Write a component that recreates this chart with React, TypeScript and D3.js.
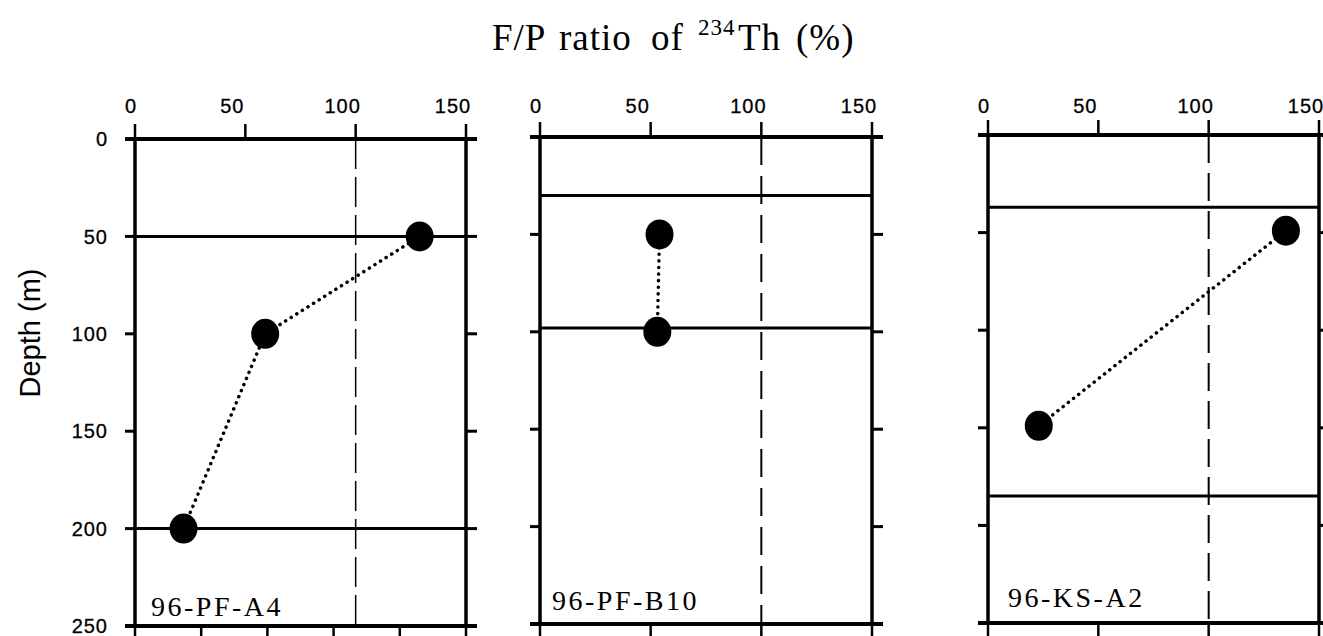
import * as d3 from "d3";

// F/P ratio of 234Th (%) vs depth, three stations
const stationNames = ["96-PF-A4", "96-PF-B10", "96-KS-A2"];

const fpRatioA4 = [129, 59, 22];
const depthA4 = [50, 100, 200];
const fpRatioB10 = [54, 53];
const depthB10 = [50, 100];
const fpRatioKS = [135, 23];
const depthKS = [49, 149];

// horizontal reference layers (m)
const layersA4 = [50, 200];
const layersB10 = [30, 98];
const layersKS = [37, 185];

const topTicks = [0, 50, 100, 150];
const bottomTicksA4 = [0, 30, 60, 90, 120, 150];
const bottomTicks = [0, 50, 100, 150];
const depthTicks = [0, 50, 100, 150, 200, 250];
const refRatio = 100;

const WIDTH = 1323;
const HEIGHT = 636;

const panels = [
	{
		name: stationNames[0],
		ratio: fpRatioA4,
		depth: depthA4,
		layers: layersA4,
		bottom: bottomTicksA4,
		x: [135, 466],
		y: [139, 626],
		label: [151, 616],
		dash: { w: 1.5, pattern: "30,8" },
		showDepthLabels: true,
	},
	{
		name: stationNames[1],
		ratio: fpRatioB10,
		depth: depthB10,
		layers: layersB10,
		bottom: bottomTicks,
		x: [540, 872],
		y: [137, 624],
		label: [552, 610],
		dash: { w: 2, pattern: "28,11" },
		showDepthLabels: false,
	},
	{
		name: stationNames[2],
		ratio: fpRatioKS,
		depth: depthKS,
		layers: layersKS,
		bottom: bottomTicks,
		x: [988, 1319],
		y: [135, 623],
		label: [1008, 607],
		dash: { w: 2, pattern: "28,10" },
		showDepthLabels: false,
	},
];

const sans = "'Liberation Sans', Arial, sans-serif";
const serif = "'Liberation Serif', 'Times New Roman', serif";

function Panel({ p }: { p: (typeof panels)[number] }) {
	const x = d3.scaleLinear().domain([0, 150]).range(p.x);
	const y = d3.scaleLinear().domain([0, 250]).range(p.y);
	const pts = p.ratio.map((r, i) => [r, p.depth[i]] as [number, number]);
	const line = d3
		.line<[number, number]>()
		.x((d) => x(d[0]))
		.y((d) => y(d[1]));

	return (
		<g>
			{/* reference line at 100 % */}
			<line
				x1={x(refRatio)}
				x2={x(refRatio)}
				y1={y(0)}
				y2={y(250)}
				stroke="#000"
				strokeWidth={p.dash.w}
				strokeDasharray={p.dash.pattern}
			/>
			{/* layer lines */}
			{p.layers.map((l) => (
				<line
					key={l}
					x1={x(0)}
					x2={x(150)}
					y1={y(l)}
					y2={y(l)}
					stroke="#000"
					strokeWidth={3}
				/>
			))}
			{/* frame */}
			<line x1={x(0)} x2={x(0)} y1={y(0)} y2={y(250)} stroke="#000" strokeWidth={3.5} />
			<line x1={x(150)} x2={x(150)} y1={y(0)} y2={y(250)} stroke="#000" strokeWidth={3.5} />
			<line x1={x(0) - 10} x2={x(150) + 11} y1={y(0)} y2={y(0)} stroke="#000" strokeWidth={4} />
			<line x1={x(0) - 10} x2={x(150) + 11} y1={y(250)} y2={y(250)} stroke="#000" strokeWidth={4} />
			{/* top ticks + labels */}
			{topTicks.map((t) => (
				<g key={"t" + t}>
					<line x1={x(t)} x2={x(t)} y1={y(0) - 15} y2={y(0)} stroke="#000" strokeWidth={2.5} />
					<text
						x={x(t) + (t === 0 ? -4 : -13)}
						y={113}
						textAnchor="middle"
						fontFamily={sans}
						fontSize={20}
						letterSpacing={1}
						stroke="#000"
						strokeWidth={0.3}
					>
						{t}
					</text>
				</g>
			))}
			{/* bottom ticks */}
			{p.bottom.map((t) => (
				<line key={"b" + t} x1={x(t)} x2={x(t)} y1={y(250)} y2={y(250) + 14} stroke="#000" strokeWidth={2.5} />
			))}
			{/* depth ticks */}
			{depthTicks.map((d) => (
				<g key={"d" + d}>
					<line x1={x(0) - 10} x2={x(0)} y1={y(d)} y2={y(d)} stroke="#000" strokeWidth={3} />
					<line x1={x(150)} x2={x(150) + 11} y1={y(d)} y2={y(d)} stroke="#000" strokeWidth={3} />
					{p.showDepthLabels && (
						<text
							x={x(0) - 27}
							y={y(d)}
							dy="0.36em"
							textAnchor="end"
							fontFamily={sans}
							fontSize={20}
							letterSpacing={1}
							stroke="#000"
							strokeWidth={0.3}
						>
							{d}
						</text>
					)}
				</g>
			))}
			{/* dotted connection */}
			<path
				d={line(pts) ?? ""}
				fill="none"
				stroke="#000"
				strokeWidth={3.5}
				strokeLinecap="round"
				strokeDasharray="0.1,6.5"
			/>
			{pts.map((d, i) => (
				<ellipse key={i} cx={x(d[0])} cy={y(d[1])} rx={14} ry={15} fill="#000" />
			))}
			<text
				x={p.label[0]}
				y={p.label[1]}
				fontFamily={serif}
				fontSize={28}
				letterSpacing={2.5}
			>
				{p.name}
			</text>
		</g>
	);
}

export default function App() {
	return (
		<svg
			width={WIDTH}
			height={HEIGHT}
			style={{ position: "absolute", left: 0, top: 0, background: "#fff" }}
		>
			<rect width={WIDTH} height={HEIGHT} fill="#fff" />
			<text fontFamily={serif} fontSize={37} y={50} letterSpacing={1}>
				<tspan x={492}>F/P</tspan>
				<tspan x={559}>ratio</tspan>
				<tspan x={651}>of</tspan>
				<tspan x={698} y={35} fontSize={23}>
					234
				</tspan>
				<tspan x={738} y={50}>
					Th
				</tspan>
				<tspan x={796}>(%)</tspan>
			</text>
			<text
				transform="translate(40,333) rotate(-90)"
				textAnchor="middle"
				fontFamily={sans}
				fontSize={29}
			>
				Depth (m)
			</text>
			{panels.map((p) => (
				<Panel key={p.name} p={p} />
			))}
		</svg>
	);
}
